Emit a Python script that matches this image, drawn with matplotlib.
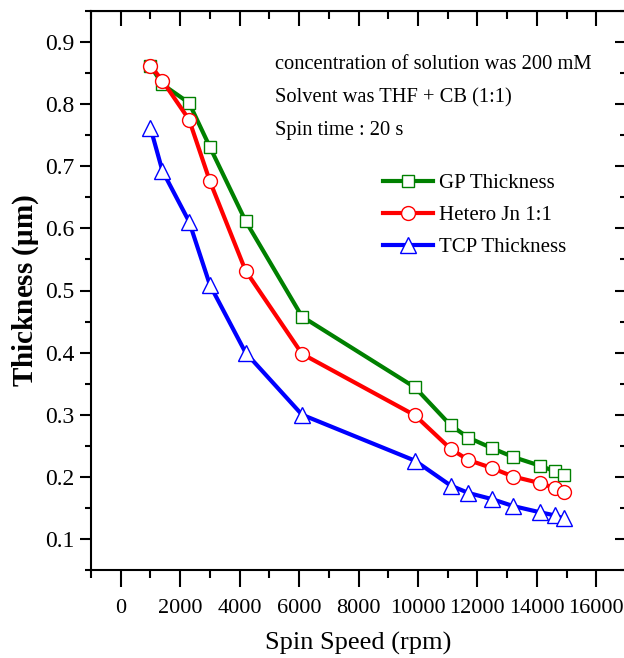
import matplotlib
matplotlib.use("Agg")
import matplotlib.pyplot as plt
from matplotlib.ticker import MultipleLocator

plt.rcParams['font.family'] = ['Liberation Serif', 'DejaVu Serif']
plt.rcParams['mathtext.fontset'] = 'custom'
plt.rcParams['mathtext.rm'] = 'Liberation Serif'
plt.rcParams['mathtext.bf'] = 'Liberation Serif:bold'

speed = [1000, 1400, 2300, 3000, 4200, 6100, 9900, 11100, 11700, 12500, 13200, 14100, 14600, 14900]
gp_thickness = [0.862, 0.832, 0.802, 0.731, 0.612, 0.458, 0.344, 0.283, 0.263, 0.246, 0.232, 0.218, 0.209, 0.203]
hetero_thickness = [0.862, 0.838, 0.775, 0.676, 0.532, 0.398, 0.299, 0.245, 0.227, 0.214, 0.2005, 0.190, 0.182, 0.175]
tcp_thickness = [0.762, 0.693, 0.611, 0.509, 0.400, 0.300, 0.226, 0.186, 0.174, 0.164, 0.153, 0.143, 0.138, 0.133]

labels = ["GP Thickness", "Hetero Jn 1:1", "TCP Thickness"]
colors = ["#008000", "#ff0000", "#0000ff"]
markers = ["s", "o", "^"]
msizes = [9, 10, 12]
notes = ["concentration of solution was 200 mM",
         "Solvent was THF + CB (1:1)",
         "Spin time : 20 s"]

fig = plt.figure(figsize=(6.24, 6.58), dpi=100)
ax = fig.add_axes([91/624, 88/658, 535/624, 559/658])

for ys, lab, c, m, ms in zip([gp_thickness, hetero_thickness, tcp_thickness], labels, colors, markers, msizes):
    ax.plot(speed, ys, color=c, lw=3.0, marker=m, markersize=ms,
            markerfacecolor='white', markeredgecolor=c, markeredgewidth=1.0, label=lab)

ax.set_xlim(-1000, 17000)
ax.set_ylim(0.05, 0.95)
ax.xaxis.set_major_locator(MultipleLocator(2000))
ax.xaxis.set_minor_locator(MultipleLocator(1000))
ax.set_yticks([0.1, 0.2, 0.3, 0.4, 0.5, 0.6, 0.7, 0.8, 0.9])
ax.yaxis.set_minor_locator(MultipleLocator(0.05))

for sp in ax.spines.values():
    sp.set_linewidth(1.5)

ax.tick_params(axis='x', which='major', labelsize=16, direction='out', length=12, width=1.5, pad=9)
ax.tick_params(axis='x', which='minor', direction='out', length=6, width=1.5)
ax.tick_params(axis='y', which='major', labelsize=17, direction='out', length=8, width=1.5, pad=4)
ax.tick_params(axis='y', which='minor', direction='out', length=4, width=1.5)

# mirrored inward ticks on top and right
axt = ax.secondary_xaxis('top')
axt.xaxis.set_major_locator(MultipleLocator(2000))
axt.xaxis.set_minor_locator(MultipleLocator(1000))
axt.tick_params(which='major', direction='in', length=11, width=1.5, labeltop=False)
axt.tick_params(which='minor', direction='in', length=6, width=1.5)
axr = ax.secondary_yaxis('right')
axr.yaxis.set_major_locator(MultipleLocator(0.1))
axr.yaxis.set_minor_locator(MultipleLocator(0.05))
axr.tick_params(which='major', direction='in', length=8, width=1.5, labelright=False)
axr.tick_params(which='minor', direction='in', length=4, width=1.5)

ax.set_xlabel("Spin Speed (rpm)", fontsize=19, labelpad=10)
ax.set_ylabel("Thickness ($\\mathbf{\\mu}$m)", fontsize=21, fontweight='bold', labelpad=3)

for i, t in enumerate(notes):
    ax.text(0.343, 0.904 - i * 0.059, t, transform=ax.transAxes, fontsize=14.8, va='center', ha='left')

leg = ax.legend(loc='upper left', bbox_to_anchor=(0.53, 0.724), frameon=False, fontsize=15,
                handlelength=2.4, handletextpad=0.3, labelspacing=0.6, borderaxespad=0)

fig.savefig("out.png", dpi=100)
